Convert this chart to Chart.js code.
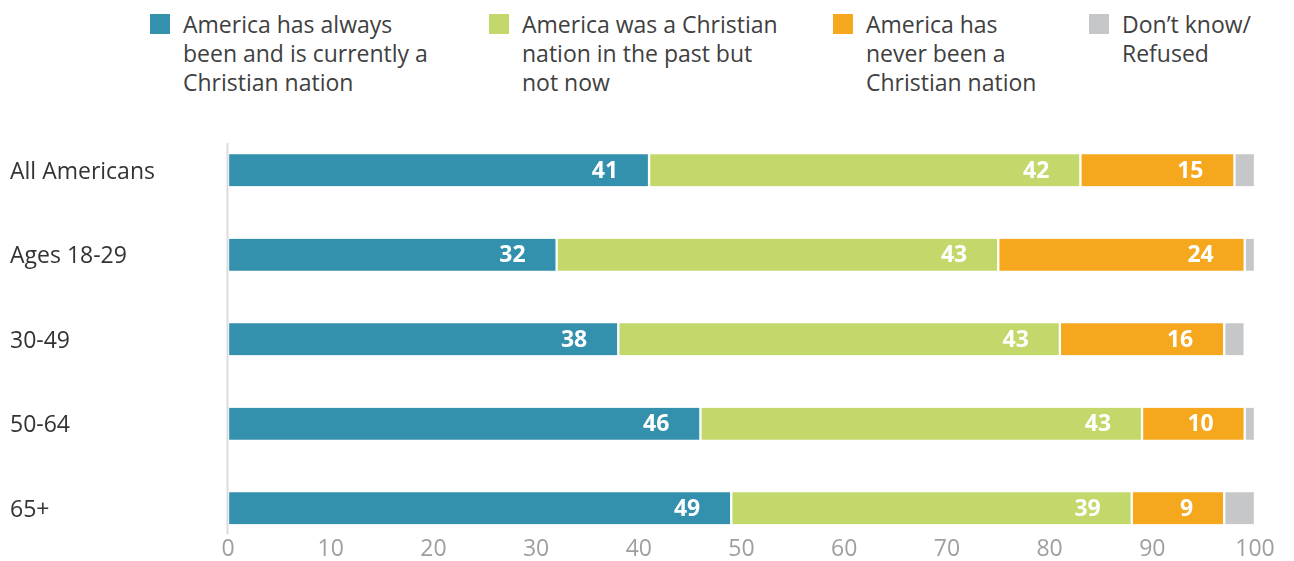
<!DOCTYPE html>
<html>
<head>
<meta charset="utf-8">
<script src="https://cdn.jsdelivr.net/npm/chart.js@4.4.1/dist/chart.umd.min.js"></script>
<style>
  html, body { margin: 0; padding: 0; background: #fff; }
  body { width: 1294px; height: 561px; position: relative; overflow: hidden; font-family: "Open Sans", sans-serif; }
  #legend { position: absolute; top: 10px; left: 0; }
  .item { position: absolute; top: 0; white-space: nowrap; font-size: 23px; line-height: 29px; color: #404040; }
  .swatch { position: absolute; left: 0; top: 4px; width: 20px; height: 20px; }
  .text { margin-left: 33px; }
  #chart { position: absolute; left: 0; top: 0; }
</style>
</head>
<body>
<div id="legend"></div>
<canvas id="chart" width="1294" height="561"></canvas>
<script>
const categories = ['All Americans', 'Ages 18-29', '30-49', '50-64', '65+'];

const seriesNames = [
  ['America has always', 'been and is currently a', 'Christian nation'],
  ['America was a Christian', 'nation in the past but', 'not now'],
  ['America has', 'never been a', 'Christian nation'],
  ['Don\u2019t know/', 'Refused']
];
const alwaysChristian = [41, 32, 38, 46, 49];
const pastNotNow = [42, 43, 43, 43, 39];
const neverChristian = [15, 24, 16, 10, 9];
const dontKnow = [2, 1, 2, 1, 3];

const colors = ['#3491ad', '#c3d86b', '#f5a81e', '#c6c7c9'];
const legendLeft = [150, 489, 833, 1089];

// legend above the plot, one block per series
const legend = document.getElementById('legend');
seriesNames.forEach((lines, i) => {
  const item = document.createElement('div');
  item.className = 'item';
  item.style.left = legendLeft[i] + 'px';
  const sw = document.createElement('span');
  sw.className = 'swatch';
  sw.style.background = colors[i];
  const txt = document.createElement('div');
  txt.className = 'text';
  txt.innerHTML = lines.join('<br>');
  item.appendChild(sw);
  item.appendChild(txt);
  legend.appendChild(item);
});

// white numbers near the right end of each labelled segment
const valueLabels = {
  id: 'valueLabels',
  afterDatasetsDraw(chart) {
    const ctx = chart.ctx;
    ctx.save();
    ctx.font = 'bold 23px "Open Sans"';
    ctx.fillStyle = '#fff';
    ctx.textAlign = 'right';
    ctx.textBaseline = 'middle';
    chart.data.datasets.forEach((ds, i) => {
      if (!ds.showValues) return;
      chart.getDatasetMeta(i).data.forEach((bar, j) => {
        ctx.fillText(ds.data[j], bar.x - 31, bar.y + 1);
      });
    });
    ctx.restore();
  }
};

// short vertical baseline at zero
const axisLine = {
  id: 'axisLine',
  afterDatasetsDraw(chart) {
    const { ctx, chartArea } = chart;
    ctx.save();
    ctx.strokeStyle = '#dcdcdc';
    ctx.lineWidth = 2;
    ctx.beginPath();
    ctx.moveTo(chartArea.left - 0.5, chartArea.top + 15);
    ctx.lineTo(chartArea.left - 0.5, chartArea.bottom - 16);
    ctx.stroke();
    ctx.restore();
  }
};

Chart.defaults.font.family = '"Open Sans", sans-serif';
Chart.defaults.font.size = 23;

const series = [alwaysChristian, pastNotNow, neverChristian, dontKnow];

new Chart(document.getElementById('chart'), {
  type: 'bar',
  data: {
    labels: categories,
    datasets: series.map((values, i) => ({
      label: seriesNames[i].join(' '),
      data: values,
      backgroundColor: colors[i],
      borderColor: '#fff',
      borderWidth: { left: 1.5, right: 1.5, top: 0, bottom: 0 },
      borderSkipped: false,
      barThickness: 32,
      showValues: i < 3
    }))
  },
  options: {
    indexAxis: 'y',
    responsive: false,
    animation: false,
    layout: { padding: { top: 128, left: 10, right: 39, bottom: 0 } },
    plugins: {
      legend: { display: false },
      tooltip: { enabled: false }
    },
    scales: {
      x: {
        stacked: true,
        min: 0,
        max: 100,
        grid: { display: false, drawTicks: false },
        border: { display: false },
        // labels sit partly inside the plot area, so they are mirrored
        ticks: { stepSize: 10, color: '#9f9f9f', mirror: true, padding: -12.5 },
        afterFit(scale) { scale.height = 10.5; }
      },
      y: {
        stacked: true,
        grid: { display: false, drawTicks: false },
        border: { display: false },
        ticks: { color: '#333', crossAlign: 'far', padding: 0, labelOffset: 2 },
        afterFit(scale) {
          scale.width = 218;
          scale.paddingTop = 0;
          scale.paddingBottom = 0;
        }
      }
    }
  },
  plugins: [valueLabels, axisLine]
});
</script>
</body>
</html>
